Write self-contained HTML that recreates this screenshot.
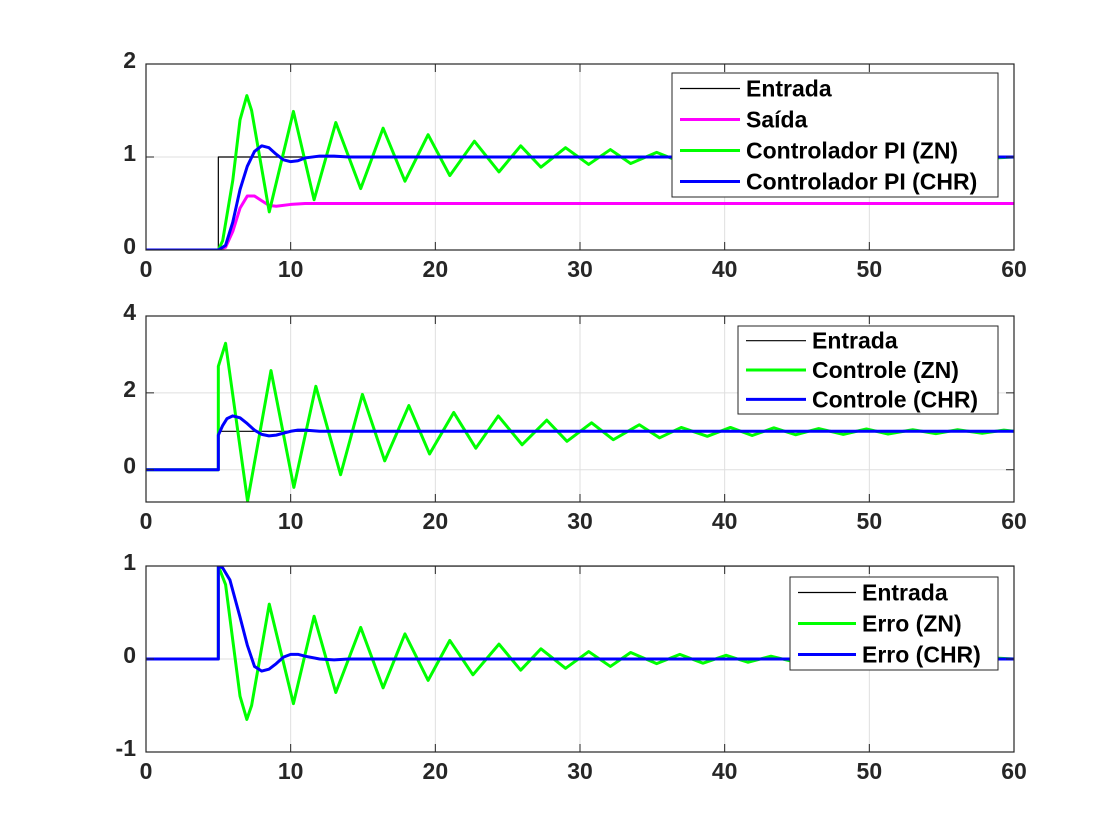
<!DOCTYPE html>
<html><head><meta charset="utf-8">
<style>
html,body{margin:0;padding:0;background:#fff;}
svg{display:block;font-family:"Liberation Sans",Arial,sans-serif;}
.tick{font-size:23px;font-weight:bold;fill:#262626;}
.leg{font-size:23px;font-weight:bold;fill:#000;}
</style></head>
<body>
<svg id="fig" width="1120" height="840" viewBox="0 0 1120 840" xmlns="http://www.w3.org/2000/svg">
<rect width="1120" height="840" fill="#fff"/>
</svg>
<script>
// ---- data ----
const tIn=[0,5,5,60];
const yIn=[0,0,1,1];
// subplot 1
const tOutZN=[0,5,5.3,6,6.5,6.97,7.3,8.52,10.19,11.62,13.12,14.84,16.39,17.9,19.5,21.0,22.7,24.4,25.9,27.3,29.0,30.6,32.1,33.5,35.3,36.9,38.5,40.1,41.6,43.2,44.8,46.3,47.9,49.4,51.0,52.6,54.1,55.7,57.2,58.8,60];
const yOutZN=[0,0,0.1,0.75,1.4,1.66,1.5,0.41,1.49,0.54,1.37,0.66,1.31,0.74,1.24,0.8,1.17,0.84,1.12,0.89,1.10,0.92,1.08,0.93,1.05,0.95,1.045,0.96,1.035,0.97,1.03,0.975,1.025,0.98,1.02,0.985,1.015,0.99,1.01,0.99,1.0];
const tOutCHR=[0,5,5.5,6,6.5,7,7.5,8,8.5,9,9.5,10,10.5,11,12,13,14,60];
const yOutCHR=[0,0,0.05,0.3,0.65,0.9,1.06,1.12,1.1,1.03,0.97,0.95,0.96,0.99,1.01,1.01,1.0,1.0];
const tSaida=[0,5,5.5,6,6.5,7,7.5,8,8.5,9,10,11,12,60];
const ySaida=[0,0,0.03,0.2,0.45,0.58,0.58,0.53,0.48,0.47,0.49,0.5,0.5,0.5];
// subplot 2
const tCtlZN=[0,5,5,5.5,7.02,8.64,10.22,11.74,13.45,14.96,16.5,18.17,19.6,21.27,22.8,24.35,26.0,27.7,29.1,30.8,32.3,34.1,35.5,37.0,38.8,40.4,41.9,43.4,44.9,46.5,48.2,49.8,51.3,53.0,54.6,56.1,57.8,59.3,60];
const yCtlZN=[0,0,2.69,3.29,-0.82,2.58,-0.46,2.17,-0.13,1.96,0.23,1.67,0.41,1.49,0.56,1.40,0.65,1.29,0.74,1.22,0.78,1.17,0.83,1.10,0.87,1.10,0.89,1.09,0.91,1.07,0.92,1.06,0.93,1.04,0.94,1.04,0.95,1.03,1.0];
const tCtlCHR=[0,5,5,5.3,5.6,6,6.5,7,7.5,8,8.5,9,9.5,10,10.5,11,12,13,60];
const yCtlCHR=[0,0,0.9,1.15,1.33,1.4,1.35,1.2,1.03,0.92,0.88,0.9,0.95,1.0,1.03,1.03,1.0,1.0,1.0];
// subplot 3
const tErrZN=[0,5,5,5.5,6,6.5,6.97,7.3,8.52,10.19,11.62,13.12,14.84,16.39,17.9,19.5,21.0,22.6,24.4,25.9,27.3,29.0,30.6,32.1,33.5,35.3,36.9,38.5,40.1,41.6,43.2,44.8,46.3,47.9,49.4,51.0,52.6,54.1,55.7,57.2,58.8,60];
const yErrZN=[0,0,1,0.8,0.2,-0.4,-0.65,-0.5,0.59,-0.48,0.46,-0.36,0.34,-0.31,0.27,-0.23,0.20,-0.17,0.16,-0.12,0.11,-0.10,0.08,-0.08,0.07,-0.05,0.05,-0.045,0.04,-0.035,0.03,-0.03,0.025,-0.02,0.02,-0.015,0.015,-0.01,0.01,-0.01,0.01,0];
const tErrCHR=[0,5,5,5.3,5.8,6.5,7,7.5,8,8.5,9,9.5,10,10.5,11,12,13,14,60];
const yErrCHR=[0,0,1,0.98,0.85,0.45,0.15,-0.08,-0.13,-0.11,-0.05,0.02,0.05,0.05,0.03,0,-0.01,0,0];
// ticks
const xTicks=[0,10,20,30,40,50,60];
const yTicks1=[0,1,2];
const yTicks2=[0,2,4];
const yTicks3=[-1,0,1];
const legend1=["Entrada","Saída","Controlador PI (ZN)","Controlador PI (CHR)"];
const legend2=["Entrada","Controle (ZN)","Controle (CHR)"];
const legend3=["Entrada","Erro (ZN)","Erro (CHR)"];

const NS="http://www.w3.org/2000/svg";
const fig=document.getElementById('fig');
function mk(tag,attrs,parent){const e=document.createElementNS(NS,tag);for(const k in attrs)e.setAttribute(k,attrs[k]);(parent||fig).appendChild(e);return e;}

const X0=146,X1=1014;
function xs(t){return X0+(t/60)*(X1-X0);}

function drawAxes(id,top,bot,ymin,ymax,yTicks,series,legendNames,legBox){
  const ys=v=>bot-(v-ymin)/(ymax-ymin)*(bot-top);
  const g=mk('g',{});
  
  
  const cp=mk('clipPath',{id:'clip-'+id},g);
  mk('rect',{x:X0,y:top,width:X1-X0,height:bot-top},cp);
  const grid=mk('g',{stroke:'#dfdfdf','stroke-width':1},g);
  
  
  xTicks.forEach(t=>{mk('line',{x1:xs(t),x2:xs(t),y1:top,y2:bot},grid);});
  yTicks.forEach(v=>{mk('line',{x1:X0,x2:X1,y1:ys(v),y2:ys(v)},grid);});
  const sg=mk('g',{'clip-path':'url(#clip-'+id+')'},g);
  series.forEach(s=>{
    const pts=s.t.map((t,i)=>xs(t).toFixed(2)+','+ys(s.y[i]).toFixed(2)).join(' ');
    const p=mk('polyline',{points:pts,fill:'none',stroke:s.c,'stroke-width':s.w,'stroke-linejoin':'round','stroke-linecap':'round'},sg);
    
    
  });
  mk('rect',{x:X0,y:top,width:X1-X0,height:bot-top,fill:'none',stroke:'#262626','stroke-width':1.2},g);
  xTicks.forEach(t=>{
    mk('line',{x1:xs(t),x2:xs(t),y1:bot,y2:bot-8,stroke:'#262626'},g);
    mk('line',{x1:xs(t),x2:xs(t),y1:top,y2:top+8,stroke:'#262626'},g);
    const tx=mk('text',{x:xs(t),y:bot+27,'text-anchor':'middle',class:'tick'},g);
    tx.textContent=t;
    
    
  });
  yTicks.forEach(v=>{
    mk('line',{x1:X0,x2:X0+8,y1:ys(v),y2:ys(v),stroke:'#262626'},g);
    mk('line',{x1:X1,x2:X1-8,y1:ys(v),y2:ys(v),stroke:'#262626'},g);
    const tx=mk('text',{x:X0-10,y:ys(v)+4,'text-anchor':'end',class:'tick'},g);
    tx.textContent=v;
    
    
  });
  const lg=mk('g',{},g);
  
  
  mk('rect',{x:legBox.x,y:legBox.y,width:legBox.w,height:legBox.h,fill:'#fff',stroke:'#262626','stroke-width':1},lg);
  legendNames.forEach((n,i)=>{
    const s=series[i];
    const yy=legBox.y+legBox.h*(i+0.5)/legendNames.length;
    mk('line',{x1:legBox.x+8,x2:legBox.x+legBox.lw,y1:yy,y2:yy,stroke:s.c,'stroke-width':s.w},lg);
    const tx=mk('text',{x:legBox.x+legBox.lw+6,y:yy+8,class:'leg'},lg);
    tx.textContent=n;
    
    
  });
}

drawAxes('output-plot',64,250,0,2,yTicks1,[
  {name:'entrada-line',t:tIn,y:yIn,c:'#000',w:1.2},
  {name:'saida-line',t:tSaida,y:ySaida,c:'#ff00ff',w:3},
  {name:'zn-output-line',t:tOutZN,y:yOutZN,c:'#00ff00',w:3},
  {name:'chr-output-line',t:tOutCHR,y:yOutCHR,c:'#0000ff',w:3}
],legend1,{x:672,y:73,w:326,h:124,lw:68});

drawAxes('control-plot',316,502,-0.84,4,yTicks2,[
  {name:'entrada-line',t:tIn,y:yIn,c:'#000',w:1.2},
  {name:'zn-control-line',t:tCtlZN,y:yCtlZN,c:'#00ff00',w:3},
  {name:'chr-control-line',t:tCtlCHR,y:yCtlCHR,c:'#0000ff',w:3}
],legend2,{x:738,y:326,w:260,h:88,lw:68});

drawAxes('error-plot',566,752,-1,1,yTicks3,[
  {name:'entrada-line',t:tIn,y:yIn,c:'#000',w:1.2},
  {name:'zn-error-line',t:tErrZN,y:yErrZN,c:'#00ff00',w:3},
  {name:'chr-error-line',t:tErrCHR,y:yErrCHR,c:'#0000ff',w:3}
],legend3,{x:790,y:577,w:208,h:93,lw:66});
</script>
</body></html>
